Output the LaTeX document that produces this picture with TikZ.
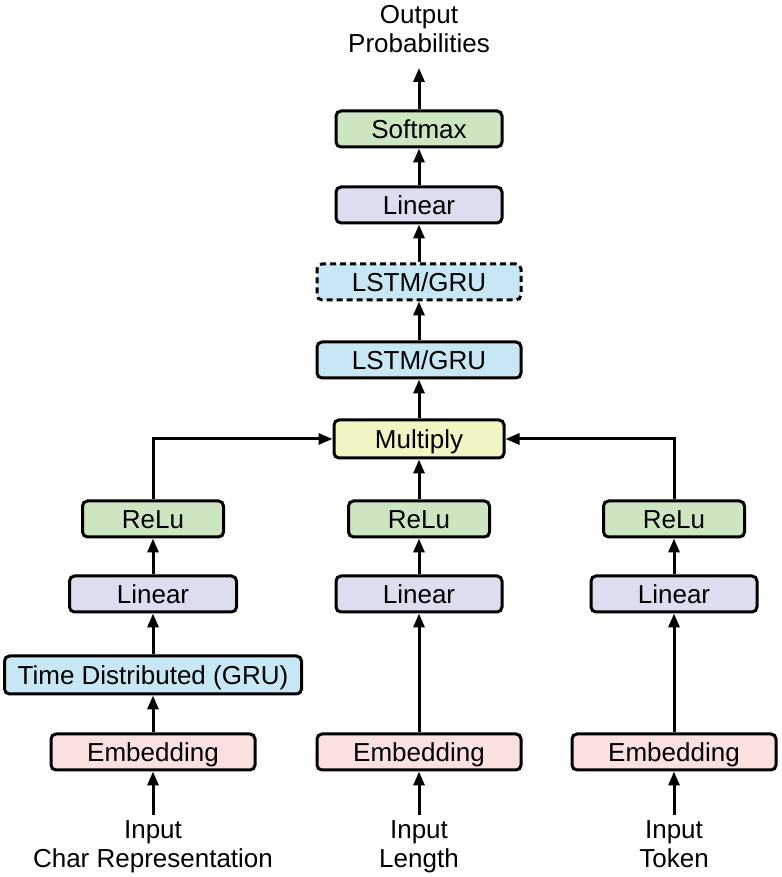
\documentclass[tikz,border=0pt]{standalone}
\usepackage{fontspec}
\setmainfont{Liberation Sans}
\usetikzlibrary{arrows.meta,positioning}
\definecolor{grn}{HTML}{CDE5C1}
\definecolor{lav}{HTML}{DCDEEF}
\definecolor{sky}{HTML}{C6E7F3}
\definecolor{ylw}{HTML}{F2F4C4}
\definecolor{pnk}{HTML}{FBE0E0}
\tikzset{layer/.style={draw, line width=3pt, rounded corners=5pt, minimum height=36pt, inner sep=2pt,
text height=19pt, text depth=0pt, font=\fontsize{26}{29}\selectfont},
flow/.style={-{Triangle[length=14pt,width=11pt]}, line width=3pt},
lbl/.style={align=center, inner sep=2pt, font=\fontsize{26}{29}\selectfont}}

\begin{document}
\begin{tikzpicture}[x=1pt,y=1pt]
        \useasboundingbox (0,0) rectangle (781,877);
        \node[layer, fill=grn, minimum width=166pt] (smax) at (419, 748) {Softmax};
        \node[layer, fill=lav, minimum width=166pt] (lintop) at (419, 672) {Linear};
        \node[layer, fill=sky, minimum width=204pt, dash pattern=on 6pt off 4pt] (rnnb) at (419, 595) {LSTM/GRU};
        \node[layer, fill=sky, minimum width=204pt] (rnna) at (419, 517) {LSTM/GRU};
        \node[layer, fill=ylw, minimum width=170pt, minimum height=38pt] (mult) at (419, 438) {Multiply};

        \node[layer, fill=grn, minimum width=141pt] (relul) at (153, 358) {ReLu};
        \node[layer, fill=grn, minimum width=141pt] (reluc) at (419, 358) {ReLu};
        \node[layer, fill=grn, minimum width=141pt] (relur) at (674, 358) {ReLu};
        \node[layer, fill=lav, minimum width=167pt] (linl) at (153, 283) {Linear};
        \node[layer, fill=lav, minimum width=166pt] (linc) at (419, 283) {Linear};
        \node[layer, fill=lav, minimum width=166pt] (linr) at (674, 283) {Linear};
        \node[layer, fill=sky, minimum width=297pt, minimum height=38pt] (tdgru) at (153, 202) {Time Distributed (GRU)};
        \node[layer, fill=pnk, minimum width=204pt] (embl) at (153, 125) {Embedding};
        \node[layer, fill=pnk, minimum width=204pt] (embc) at (419, 125) {Embedding};
        \node[layer, fill=pnk, minimum width=204pt] (embr) at (674, 125) {Embedding};

        \node[lbl, anchor=north, outer ysep=4pt] (inl) at (153, 62) {Input\\Char Representation};
        \node[lbl, anchor=north, outer ysep=4pt] (inc) at (419, 62) {Input\\Length};
        \node[lbl, anchor=north, outer ysep=4pt] (inr) at (674, 62) {Input\\Token};
        \node[lbl, anchor=south, outer ysep=13pt] (outp) at (419, 809) {Output\\Probabilities};

        \draw (inl) edge[flow] (embl)
              (embl) edge[flow] (tdgru)
              (tdgru) edge[flow] (linl)
              (linl) edge[flow] (relul)
              (inc) edge[flow] (embc)
              (embc) edge[flow] (linc)
              (linc) edge[flow] (reluc)
              (reluc) edge[flow] (mult)
              (inr) edge[flow] (embr)
              (embr) edge[flow] (linr)
              (linr) edge[flow] (relur)
              (mult) edge[flow] (rnna)
              (rnna) edge[flow] (rnnb)
              (rnnb) edge[flow] (lintop)
              (lintop) edge[flow] (smax)
              (smax) edge[flow] (outp)
              ;
        \draw[flow] (relul) |- (mult);
        \draw[flow] (relur) |- (mult);
    \end{tikzpicture}
\end{document}
